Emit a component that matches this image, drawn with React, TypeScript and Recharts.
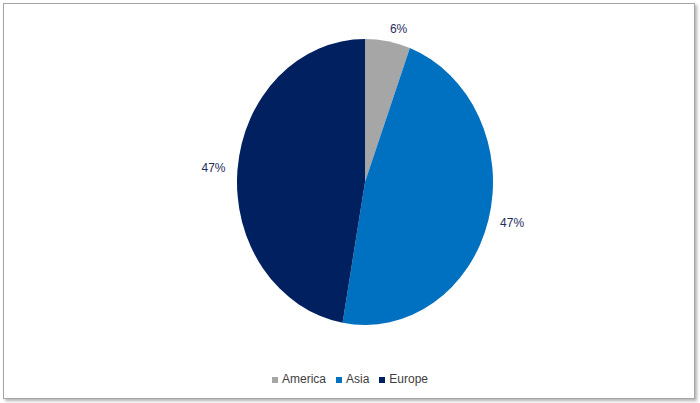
import { PieChart, Pie, Cell, Legend } from "recharts";

// Regions and their share (%)
const REGIONS = ["America", "Asia", "Europe"];
const SHARES = [5.7, 47.1, 47.2];
const COLORS = ["#a6a6a6", "#0070c0", "#002060"];

const W = 700;
const H = 403;
const CX = 365;
const CY = 182;
const RX = 128; // horizontal radius
const RY = 143; // vertical radius (Excel draws this pie slightly squashed)
const RAD = Math.PI / 180;

const data = REGIONS.map((name, i) => ({ name, value: SHARES[i] }));

function renderLabel(props: any) {
  const { midAngle, percent } = props;
  const d = 12;
  const c = Math.cos(-midAngle * RAD);
  const s = Math.sin(-midAngle * RAD);
  const x = CX + (RX + d) * c;
  const y = CY + (RY + d) * s;
  const anchor = c > 0 ? "start" : c < -0.1 ? "end" : "middle";
  return (
    <text
      x={x}
      y={y}
      textAnchor={anchor}
      dominantBaseline="central"
      fill="#1f2d5c"
      fontSize={12}
      fontFamily="'Liberation Sans', Arial, sans-serif"
    >
      {`${Math.round(percent * 100)}%`}
    </text>
  );
}

export default function App() {
  return (
    <div
      style={{
        position: "absolute",
        left: 0,
        top: 0,
        width: W,
        height: H,
        background: "#fff",
        fontFamily: "'Liberation Sans', Arial, sans-serif",
      }}
    >
      <style>{`
        .recharts-pie-sector {
          transform-box: view-box;
          transform-origin: ${CX}px ${CY}px;
          transform: scale(1, ${RY / RX});
        }
      `}</style>
      <div
        style={{
          position: "absolute",
          left: 3,
          top: 3,
          width: 690,
          height: 394,
          border: "1px solid #a6a6a6",
          boxShadow: "2px 2px 3px rgba(0,0,0,0.3)",
          background: "#fff",
        }}
      />
      <div style={{ position: "absolute", left: 0, top: 0 }}>
        <PieChart width={W} height={H} margin={{ top: 0, right: 0, bottom: 0, left: 0 }}>
          <Pie
            data={data}
            dataKey="value"
            nameKey="name"
            cx={CX}
            cy={CY}
            outerRadius={RX}
            startAngle={90}
            endAngle={-270}
            stroke="none"
            label={renderLabel}
            labelLine={false}
            isAnimationActive={false}
          >
            {data.map((d, i) => (
              <Cell key={d.name} fill={COLORS[i]} />
            ))}
          </Pie>
          <Legend
            iconType="square"
            iconSize={6}
            wrapperStyle={{ top: 372, left: 5, width: W, fontSize: 12 }}
            formatter={(value) => <span style={{ color: "#404040" }}>{value}</span>}
          />
        </PieChart>
      </div>
    </div>
  );
}
